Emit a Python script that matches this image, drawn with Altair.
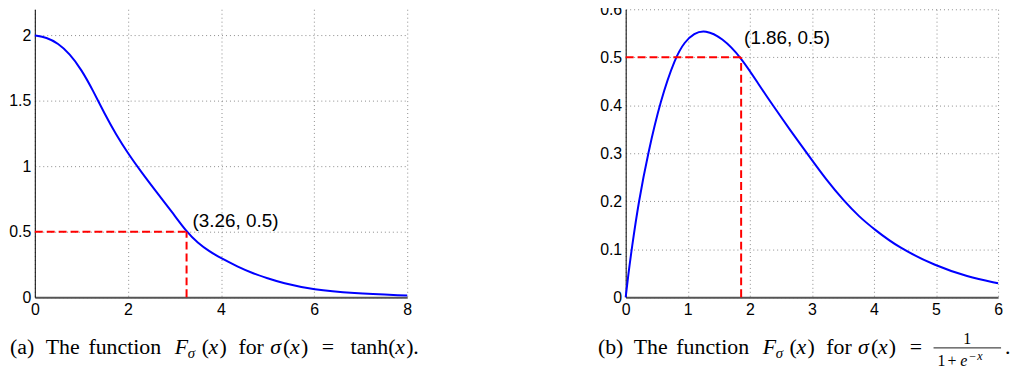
import altair as alt
import pandas as pd

# ---------------- data ----------------
# panel (a): sigma = tanh
a_x = [0, 0.25, 0.5, 0.75, 1.0, 1.25, 1.5, 1.75, 2.0, 2.3, 2.6, 2.95, 3.26, 3.5, 3.75, 4.0, 4.35, 4.7, 5.0, 5.3, 6.0, 6.8, 8.0]
a_y = [2.0, 1.985, 1.94, 1.86, 1.74, 1.58, 1.40, 1.24, 1.10, 0.95, 0.81, 0.65, 0.50, 0.415, 0.35, 0.298, 0.235, 0.18, 0.145, 0.11, 0.056, 0.031, 0.013]
a_point = [3.26, 0.5]
a_label = "(3.26, 0.5)"
a_xticks = [0, 2, 4, 6, 8]
a_yticks = [0, 0.5, 1, 1.5, 2]
a_xdomain = [0, 8]
a_ydomain = [0, 2.2]

# panel (b): sigma = logistic
b_x = [0, 0.04, 0.096, 0.21, 0.36, 0.56, 0.80, 0.95, 1.1, 1.28, 1.55, 1.86, 2.16, 2.37, 2.64, 2.96, 3.23, 3.52, 3.76, 4.0, 4.4, 5.0, 5.5, 6.0]
b_y = [0, 0.045, 0.10, 0.20, 0.30, 0.41, 0.50, 0.532, 0.550, 0.557, 0.541, 0.50, 0.44, 0.40, 0.35, 0.293, 0.245, 0.20, 0.168, 0.142, 0.103, 0.065, 0.043, 0.029]
b_point = [1.86, 0.5]
b_label = "(1.86, 0.5)"
b_xticks = [0, 1, 2, 3, 4, 5, 6]
b_yticks = [0, 0.1, 0.2, 0.3, 0.4, 0.5, 0.6]
b_xdomain = [0, 6]
b_ydomain = [0, 0.6]

# caption pieces: (text, x offset from caption start, baseline shift, size, style, align)
cap_common = [
    ("The", 36, 0, 22, "normal", "left"),
    ("function", 79, 0, 22, "normal", "left"),
    ("F", 166, 0, 22, "italic", "left"),
    ("σ", 179, 4, 15, "italic", "left"),
    ("(", 193, 0, 22, "normal", "left"),
    ("x", 200, 0, 22, "italic", "left"),
    (")", 211, 0, 22, "normal", "left"),
    ("for", 230, 0, 22, "normal", "left"),
    ("σ", 262, 0, 22, "italic", "left"),
    ("(", 275, 0, 22, "normal", "left"),
    ("x", 282, 0, 22, "italic", "left"),
    (")", 293, 0, 22, "normal", "left"),
    ("=", 314, 0, 22, "normal", "left"),
]
cap_a = [("(a)", 0, 0, 22, "normal", "left")] + cap_common + [
    ("tanh", 343, 0, 22, "normal", "left"),
    ("(", 381, 0, 22, "normal", "left"),
    ("x", 388, 0, 22, "italic", "left"),
    (")", 399, 0, 22, "normal", "left"),
    (".", 406, 0, 22, "normal", "left"),
]
cap_b = [("(b)", 0, 0, 22, "normal", "left")] + cap_common + [
    ("1", 372, -10, 16, "normal", "center"),
    ("1", 342, 12, 16, "normal", "left"),
    ("+", 352, 12, 16, "normal", "left"),
    ("e", 365, 12, 16, "italic", "left"),
    ("−", 374, 6, 12, "normal", "left"),
    ("x", 382, 6, 12, "italic", "left"),
    (".", 410, 0, 22, "normal", "left"),
]

# ---------------- styling ----------------
W, H = 375, 290
BLUE = "#0000ff"
RED = "#ff0000"
AXIS_FONT = "Liberation Sans"
CAP_FONT = "Liberation Serif"
CAP_Y = 347
dummy = pd.DataFrame({"k": [0]})


def caption_layers(pieces, x0, bar=None):
    out = []
    for text, off, dy, size, style, align in pieces:
        out.append(
            alt.Chart(dummy)
            .mark_text(text=text, align=align, baseline="alphabetic", font=CAP_FONT,
                       fontSize=size, fontStyle=style, color="black")
            .encode(x=alt.value(x0 + off), y=alt.value(CAP_Y + dy))
        )
    if bar is not None:
        out.append(
            alt.Chart(dummy)
            .mark_rule(color="black", strokeWidth=0.9)
            .encode(x=alt.value(x0 + bar[0]), x2=alt.value(x0 + bar[1]), y=alt.value(CAP_Y - 6))
        )
    return out


def panel(xs, ys, pt, label, xdom, ydom, xticks, yticks, ldx, ldy, caps):
    curve = pd.DataFrame({"x": xs, "y": ys})
    xsc = alt.Scale(domain=xdom, nice=False, zero=False)
    ysc = alt.Scale(domain=ydom, nice=False, zero=False)
    xax = alt.Axis(values=xticks, title=None, grid=True, ticks=False, labelFlush=False,
                   labelOverlap=False, labelPadding=4, domainColor="#555", domainWidth=2,
                   format="~g", labelFont=AXIS_FONT, labelFontSize=16, labelColor="black")
    yax = alt.Axis(values=yticks, title=None, grid=True, ticks=False, labelFlush=False,
                   labelOverlap=False, labelPadding=4, domainColor="#000", domainWidth=1,
                   format="~g", labelFont=AXIS_FONT, labelFontSize=16, labelColor="black")
    line = alt.Chart(curve).mark_line(color=BLUE, strokeWidth=2, interpolate="basis").encode(
        x=alt.X("x:Q", scale=xsc, axis=xax), y=alt.Y("y:Q", scale=ysc, axis=yax))
    p = pd.DataFrame({"x": [pt[0]], "y": [pt[1]], "x0": [xdom[0]], "y0": [ydom[0]], "label": [label]})
    hrule = alt.Chart(p).mark_rule(color=RED, strokeWidth=2, strokeDash=[8, 4]).encode(
        x="x0:Q", x2="x:Q", y="y:Q")
    vrule = alt.Chart(p).mark_rule(color=RED, strokeWidth=2, strokeDash=[8, 4]).encode(
        x="x:Q", y="y0:Q", y2="y:Q")
    txt = alt.Chart(p).mark_text(align="left", baseline="alphabetic", font=AXIS_FONT,
                                 fontSize=19, dx=ldx, dy=ldy, color="black").encode(
        x="x:Q", y="y:Q", text="label:N")
    return alt.layer(line, hrule, vrule, txt, *caps).properties(width=W, height=H)


left = panel(a_x, a_y, a_point, a_label, a_xdomain, a_ydomain, a_xticks, a_yticks, 6, -5,
             caption_layers(cap_a, -25))
right = panel(b_x, b_y, b_point, b_label, b_xdomain, b_ydomain, b_xticks, b_yticks, 3, -13,
              caption_layers(cap_b, -28, bar=(338, 406)))

chart = (
    alt.hconcat(left, right, spacing=220, bounds="flush")
    .properties(padding={"left": 0, "top": -8, "right": 0, "bottom": 0})
    .configure_view(stroke=None)
    .configure_axis(gridColor="#8c8c8c", gridDash=[1, 3], gridWidth=1, gridOpacity=1)
)

chart.save("out.html", embed_options={"renderer": "svg", "actions": False})
